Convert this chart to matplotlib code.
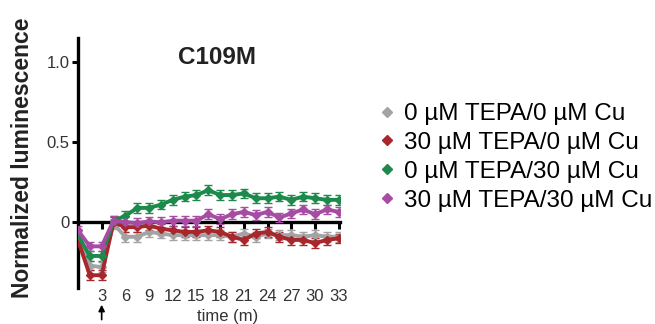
import numpy as np
import matplotlib.pyplot as plt
from matplotlib.lines import Line2D

plt.rcParams['font.family'] = ['Liberation Sans', 'DejaVu Sans']

# time points (minutes)
time_m = [0, 1.5, 3, 4.5, 6, 7.5, 9, 10.5, 12, 13.5, 15, 16.5, 18, 19.5,
          21, 22.5, 24, 25.5, 27, 28.5, 30, 31.5, 33]

tepa0_cu0 = [-0.09, -0.27, -0.28, -0.01, -0.09, -0.09, -0.06, -0.07, -0.08, -0.08, -0.08, -0.08,
             -0.08, -0.09, -0.07, -0.09, -0.07, -0.08, -0.08, -0.09, -0.08, -0.09, -0.09]
tepa30_cu0 = [-0.11, -0.33, -0.33, 0.0, -0.03, -0.03, -0.02, -0.04, -0.05, -0.06, -0.06, -0.05,
              -0.06, -0.09, -0.11, -0.07, -0.06, -0.09, -0.11, -0.11, -0.13, -0.11, -0.10]
tepa0_cu30 = [-0.08, -0.21, -0.21, 0.01, 0.04, 0.09, 0.09, 0.11, 0.14, 0.16, 0.17, 0.20,
              0.17, 0.17, 0.18, 0.15, 0.15, 0.16, 0.14, 0.16, 0.15, 0.14, 0.14]
tepa30_cu30 = [-0.05, -0.15, -0.15, 0.01, 0.0, -0.005, 0.005, 0.0, 0.01, 0.01, 0.01, 0.05,
               0.02, 0.05, 0.065, 0.045, 0.065, 0.03, 0.055, 0.08, 0.05, 0.08, 0.065]

err = [0.03] * len(time_m)

labels = ['0 µM TEPA/0 µM Cu', '30 µM TEPA/0 µM Cu',
          '0 µM TEPA/30 µM Cu', '30 µM TEPA/30 µM Cu']
colors = ['#a3a3a3', '#a8272c', '#1d8a4c', '#a64ca3']
series = [tepa0_cu0, tepa30_cu0, tepa0_cu30, tepa30_cu30]

xticks = [3, 6, 9, 12, 15, 18, 21, 24, 27, 30, 33]
yticks = [0, 0.5, 1.0]
ytick_labels = ['0', '0.5', '1.0']

fig = plt.figure(figsize=(6.55, 3.24), dpi=100)
ax = fig.add_axes([0.119, 0.111, 0.4005, 0.772])

for vals, c in zip(series, colors):
    ax.errorbar(time_m, vals, yerr=err, color=c, lw=2.8, marker='D', ms=4.5,
                capsize=3, elinewidth=1.0, capthick=1.0, zorder=3)

ax.set_xlim(0, 33.2)
ax.set_ylim(-0.41, 1.15)

ax.spines['top'].set_visible(False)
ax.spines['right'].set_visible(False)
ax.spines['bottom'].set_position(('data', 0))
ax.spines['left'].set_linewidth(2.4)
ax.spines['bottom'].set_linewidth(2.4)
ax.spines['bottom'].set_zorder(2)

ax.set_yticks(yticks)
ax.set_yticklabels(ytick_labels)
ax.set_xticks(xticks)
ax.set_xticklabels([str(x) for x in xticks])
ax.tick_params(axis='y', length=4, width=2.2, labelsize=12, labelcolor='#333333', pad=2)
ax.tick_params(axis='x', length=5, width=2.2, labelsize=12, labelcolor='#333333',
               direction='out', pad=43)

ax.set_title('C109M', fontsize=17.5, fontweight='bold', x=0.53, y=0.862, color='#222222')

fig.text(0.034, 0.514, 'Normalized luminescence', rotation=90, fontsize=16.5,
         fontweight='bold', ha='center', va='center', color='#222222')
fig.text(0.348, 0.022, 'time (m)', fontsize=12, ha='center', va='center', color='#333333')

# stimulus arrow under t=3
ax.annotate('', xy=(3, 0.068), xycoords=('data', 'figure fraction'),
            xytext=(3, 0.005), textcoords=('data', 'figure fraction'),
            arrowprops=dict(arrowstyle='-|>', color='black', lw=1.2, mutation_scale=9))

handles = [Line2D([], [], color=c, marker='D', ls='none', ms=5.5) for c in colors]
fig.legend(handles, labels, loc='upper left', bbox_to_anchor=(0.565, 0.712),
           frameon=False, fontsize=17.5, handlelength=0.6, handletextpad=0.4,
           labelspacing=0.28, borderaxespad=0)

fig.savefig('out.png', dpi=100)
